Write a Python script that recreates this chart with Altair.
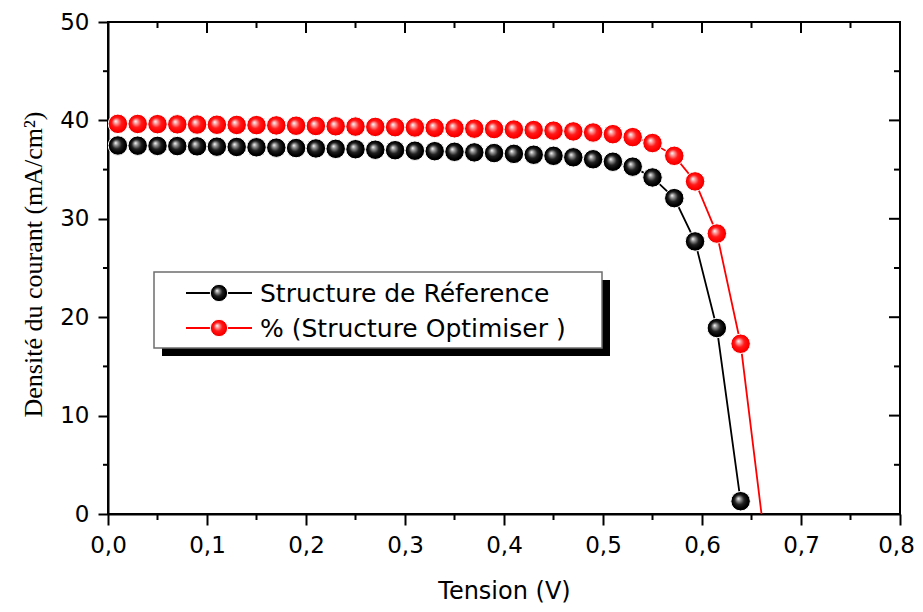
import altair as alt
import pandas as pd

# ---- data ----
x_ref = [0.01, 0.03, 0.05, 0.07, 0.09, 0.11, 0.13, 0.15, 0.17, 0.19, 0.21,
         0.23, 0.25, 0.27, 0.29, 0.31, 0.33, 0.35, 0.37, 0.39, 0.41, 0.43,
         0.45, 0.47, 0.49, 0.51, 0.53, 0.55, 0.572, 0.593, 0.615, 0.639]
j_ref = [37.45, 37.43, 37.41, 37.39, 37.36, 37.33, 37.30, 37.27, 37.23, 37.19,
         37.15, 37.11, 37.07, 37.02, 36.97, 36.92, 36.87, 36.81, 36.75, 36.68,
         36.60, 36.51, 36.40, 36.25, 36.05, 35.80, 35.30, 34.20, 32.10, 27.70,
         18.90, 1.30]
x_opt = x_ref + [0.665]
j_opt = [39.65, 39.64, 39.62, 39.60, 39.58, 39.56, 39.54, 39.52, 39.49, 39.46,
         39.43, 39.40, 39.37, 39.34, 39.31, 39.28, 39.24, 39.20, 39.16, 39.12,
         39.07, 39.02, 38.96, 38.88, 38.77, 38.60, 38.30, 37.70, 36.40, 33.80,
         28.50, 17.30, -4.0]

series_names = ["Structure de Réference", "% (Structure Optimiser )"]
x_major = [0.0, 0.1, 0.2, 0.3, 0.4, 0.5, 0.6, 0.7, 0.8]
x_minor = [0.05, 0.15, 0.25, 0.35, 0.45, 0.55, 0.65, 0.75]
y_major = [0, 10, 20, 30, 40, 50]
y_minor = [5, 15, 25, 35, 45]

W, H = 792, 492
SANS = "DejaVu Sans"

df_ref = pd.DataFrame({"x": x_ref, "y": j_ref})
df_opt = pd.DataFrame({"x": x_opt, "y": j_opt})

xs = alt.Scale(domain=[0, 0.8], nice=False, zero=False)
ys = alt.Scale(domain=[0, 50], nice=False, zero=False)

x_axis = alt.Axis(values=x_major, labelExpr="replace(format(datum.value, '.1f'), '.', ',')",
                  tickSize=11, tickWidth=2, tickColor="black", domainColor="black", domainWidth=2,
                  labelFont=SANS, labelFontSize=23, labelColor="black", labelPadding=9,
                  labelOffset={"condition": {"test": "datum.value > 0.79", "value": -4}, "value": 0},
                  grid=False, labelFlush=False, labelOverlap=False, title="Tension (V)", titleFont=SANS,
                  titleFontSize=24, titleFontWeight="normal", titleColor="black",
                  titleX=W / 2, titleY=84, titleBaseline="alphabetic", titleAlign="center")
y_axis = alt.Axis(values=y_major, tickSize=10, tickWidth=2, tickColor="black",
                  domainColor="black", domainWidth=2, labelFont=SANS, labelFontSize=23,
                  labelColor="black", labelPadding=9, grid=False, labelFlush=False,
                  title="Densité du courant (mA/cm²)", titleFont="Liberation Serif",
                  titleFontSize=26, titleFontWeight="normal", titleColor="black",
                  titleX=-67, titleY=H / 2 - 4, titleAngle=-90, titleAlign="center",
                  titleBaseline="alphabetic")


def sphere(base, mid, edge, hl):
    return alt.RadialGradient(
        gradient="radial",
        stops=[alt.GradientStop(color="#ffffff", offset=0),
               alt.GradientStop(color=hl, offset=0.2),
               alt.GradientStop(color=mid, offset=0.5),
               alt.GradientStop(color=base, offset=0.8),
               alt.GradientStop(color=edge, offset=1)],
        x1=0.38, y1=0.36, r1=0, x2=0.5, y2=0.5, r2=0.5)


red_fill = sphere("#ff0000", "#ff1a1a", "#e60000", "#ffa0a0")
black_fill = sphere("#000000", "#202020", "#000000", "#9a9a9a")

line_ref = alt.Chart(df_ref).mark_line(color="black", strokeWidth=1.8, clip=True).encode(
    x=alt.X("x:Q", scale=xs, axis=x_axis), y=alt.Y("y:Q", scale=ys, axis=y_axis))
line_opt = alt.Chart(df_opt).mark_line(color="#ff0000", strokeWidth=1.8, clip=True).encode(
    x=alt.X("x:Q", scale=xs), y=alt.Y("y:Q", scale=ys))
pts_ref = alt.Chart(df_ref).mark_point(shape="circle", filled=True, size=380, fill=black_fill,
                                       stroke="white", strokeWidth=1, opacity=1, clip=True).encode(
    x=alt.X("x:Q", scale=xs), y=alt.Y("y:Q", scale=ys))
pts_opt = alt.Chart(df_opt).mark_point(shape="circle", filled=True, size=380, fill=red_fill,
                                       stroke="white", strokeWidth=1, opacity=1, clip=True).encode(
    x=alt.X("x:Q", scale=xs), y=alt.Y("y:Q", scale=ys))

# ---- frame ticks ----
dxM = pd.DataFrame({"x": x_major})
dxm = pd.DataFrame({"x": x_minor})
dyM = pd.DataFrame({"y": y_major})
dym = pd.DataFrame({"y": y_minor})
tick = dict(color="black", strokeWidth=2)
top_M = alt.Chart(dxM).mark_rule(**tick).encode(x=alt.X("x:Q", scale=xs), y=alt.value(0), y2=alt.value(11))
top_m = alt.Chart(dxm).mark_rule(**tick).encode(x=alt.X("x:Q", scale=xs), y=alt.value(0), y2=alt.value(6))
bot_m = alt.Chart(dxm).mark_rule(**tick).encode(x=alt.X("x:Q", scale=xs), y=alt.value(H), y2=alt.value(H + 6))
rgt_M = alt.Chart(dyM).mark_rule(**tick).encode(y=alt.Y("y:Q", scale=ys), x=alt.value(W), x2=alt.value(W - 11))
rgt_m = alt.Chart(dym).mark_rule(**tick).encode(y=alt.Y("y:Q", scale=ys), x=alt.value(W), x2=alt.value(W - 6))
lft_m = alt.Chart(dym).mark_rule(**tick).encode(y=alt.Y("y:Q", scale=ys), x=alt.value(0), x2=alt.value(-5))

# ---- legend box with shadow ----
one = pd.DataFrame({"a": [0]})
shadow = alt.Chart(one).mark_rect(color="black").encode(
    x=alt.value(54), x2=alt.value(502), y=alt.value(258), y2=alt.value(334))
box = alt.Chart(one).mark_rect(fill="white", stroke="#6e6e6e", strokeWidth=1.5).encode(
    x=alt.value(46), x2=alt.value(494), y=alt.value(250), y2=alt.value(326))
leg_rows = [271, 306]
leg_layers = []
for row_y, col, fill, name in zip(leg_rows, ["black", "#ff0000"], [black_fill, red_fill], series_names):
    leg_layers.append(alt.Chart(one).mark_rule(color=col, strokeWidth=1.8).encode(
        x=alt.value(78), x2=alt.value(144), y=alt.value(row_y)))
    leg_layers.append(alt.Chart(one).mark_point(shape="circle", filled=True, size=300, fill=fill,
                                                stroke="white", strokeWidth=1, opacity=1).encode(
        x=alt.value(111), y=alt.value(row_y)))
    leg_layers.append(alt.Chart(one).mark_text(align="left", baseline="middle", font=SANS,
                                               fontSize=25, color="black").encode(
        x=alt.value(152), y=alt.value(row_y + 1), text=alt.value(name)))

chart = alt.layer(
    line_ref, line_opt, pts_ref, pts_opt,
    top_M, top_m, bot_m, rgt_M, rgt_m, lft_m,
    shadow, box, *leg_layers
).properties(
    width=W, height=H,
    padding={"left": 100, "top": 14, "right": 15, "bottom": 90},
    autosize=alt.AutoSizeParams(type="none"),
    background="white",
).configure_view(stroke="black", strokeWidth=2)

chart.save("out.html", embed_options={"renderer": "svg", "actions": False})
